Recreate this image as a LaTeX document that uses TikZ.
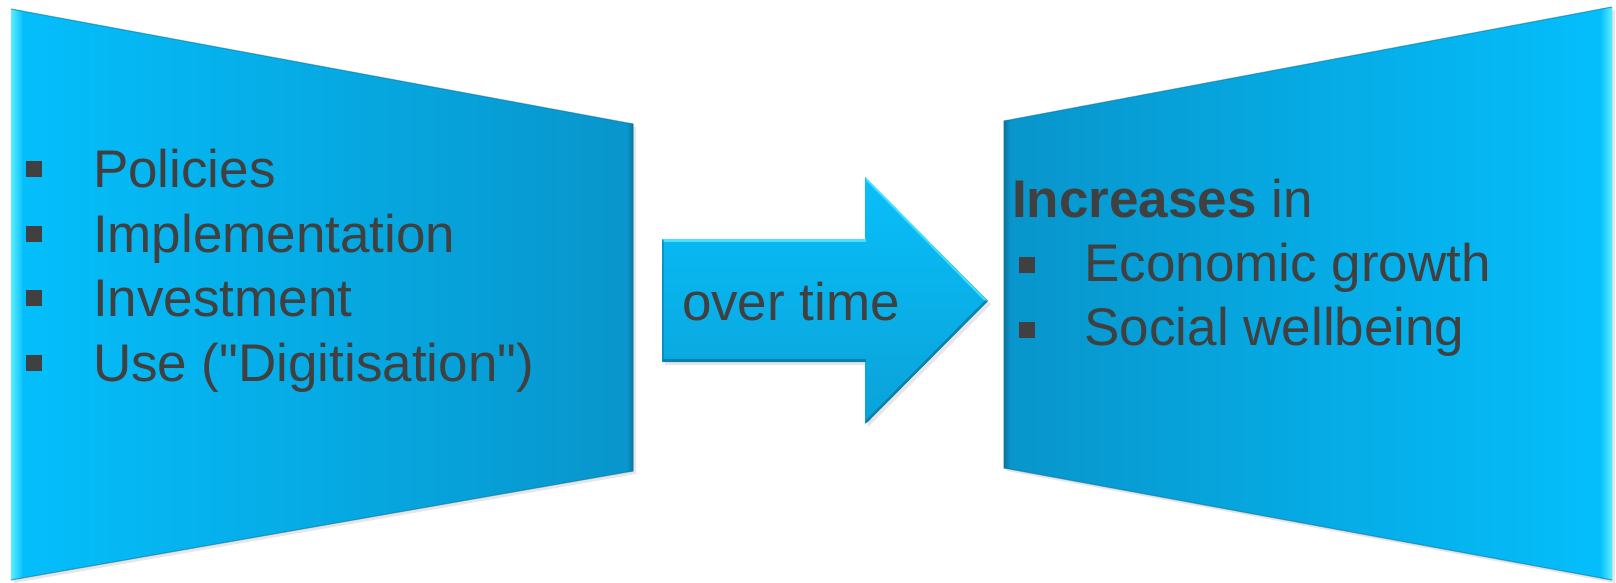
\documentclass[tikz,border=0pt]{standalone}
\usepackage{fontspec}
\setmainfont{Liberation Sans}[Ligatures=TeXOff]
\usetikzlibrary{shadows}
\definecolor{skyhi}{HTML}{04BFFC}
\definecolor{skylo}{HTML}{0895CB}
\definecolor{edgehi}{HTML}{5AEEFF}
\definecolor{edgelo}{HTML}{0A76A0}
\definecolor{arrowtop}{HTML}{09BFFA}
\definecolor{arrowbot}{HTML}{0AA2D8}
\definecolor{ink}{HTML}{404040}
\newcommand{\sqbul}[1]{\rule[#1]{16pt}{16pt}}
\tikzset{
  panelshadow/.style={drop shadow={shadow xshift=3pt,shadow yshift=-3pt,opacity=0.16,fill=black!60}},
  label/.style={anchor=base west,inner sep=0pt,outer sep=0pt,text=ink,font=\fontsize{53}{64}\selectfont},
}
\begin{document}
\begin{tikzpicture}[x=1pt,y=-1pt]
\useasboundingbox (0,0) rectangle (1616,583);

% left trapezoid: bright on its tall left side, darker toward the narrow right side
\path[panelshadow,left color=skyhi,right color=skylo]
  (11,9) -- (633,124) -- (633,471) -- (11,580) -- cycle;
\shade[left color=edgehi,right color=skyhi] (11,9) -- (23,11) -- (23,578) -- (11,580) -- cycle;
\shade[left color=skylo,right color=edgelo] (627,123) -- (633,124) -- (633,471) -- (627,472) -- cycle;
\draw[edgelo,opacity=0.55,line width=1.2pt,line join=miter] (11,9) -- (633,124) -- (633,471) -- (11,580);

% right trapezoid: mirror image of the left one
\path[panelshadow,left color=skylo,right color=skyhi]
  (1004,121) -- (1612,7) -- (1612,580) -- (1004,468) -- cycle;
\shade[left color=skyhi,right color=edgehi] (1600,9) -- (1612,7) -- (1612,580) -- (1600,578) -- cycle;
\shade[left color=edgelo,right color=skylo] (1004,121) -- (1010,120) -- (1010,469) -- (1004,468) -- cycle;
\draw[edgelo,opacity=0.55,line width=1.2pt,line join=miter] (1612,7) -- (1004,121) -- (1004,468) -- (1612,580);

% block arrow in the middle
\path[panelshadow,top color=arrowtop,bottom color=arrowbot]
  (662,239) -- (865,239) -- (865,177) -- (988,301) -- (865,424) -- (865,362) -- (662,362) -- cycle;
\draw[edgehi,opacity=0.8,line width=2.5pt] (663,240.5) -- (866,240.5);
\draw[edgehi,opacity=0.7,line width=2pt] (866,179) -- (986,301);
\draw[edgelo,opacity=0.8,line width=2.5pt] (986,301) -- (866,422);
\draw[edgelo,opacity=0.8,line width=2.5pt] (866,360.5) -- (663,360.5);
\draw[edgelo,opacity=0.5,line width=2pt] (663,240) -- (663,361);

% texts
\node[label] (pol) at (26,187.7) {\makebox[67pt][l]{\sqbul{10.5pt}}Policies};
\node[label] (imp) at (26,252.8) {\makebox[67pt][l]{\sqbul{10.5pt}}Implementation};
\node[label] (inv) at (26,316.5) {\makebox[67pt][l]{\sqbul{10.5pt}}Investment};
\node[label] (use) at (26,381) {\makebox[67pt][l]{\sqbul{10.5pt}}Use ("Digitisation")};

\node[label] (time) at (682,320.7) {over time};

\node[label] (inc) at (1012,217.5) {\textbf{Increases} in};
\node[label] (eco) at (1018.5,281) {\makebox[66pt][l]{\sqbul{8pt}}Economic growth};
\node[label] (soc) at (1018.5,345.7) {\makebox[66pt][l]{\sqbul{8pt}}Social wellbeing};
\end{tikzpicture}
\end{document}
